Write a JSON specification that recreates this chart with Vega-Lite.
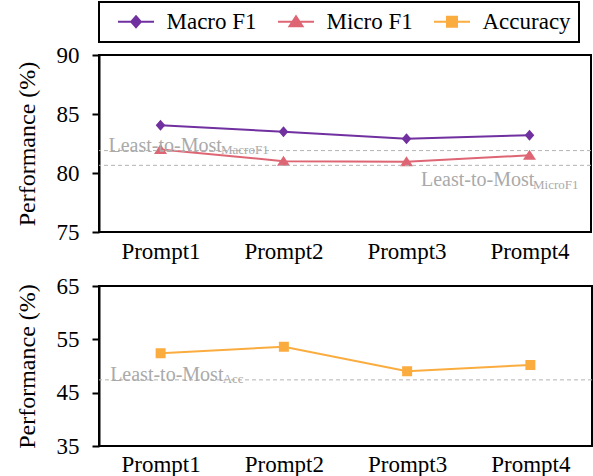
{
  "$schema": "https://vega.github.io/schema/vega-lite/v6.json",
  "background": "white",
  "padding": {"left": 14, "top": 0, "right": 0, "bottom": 0},
  "spacing": 10,
  "datasets": {
    "scores": [
      {"prompt": "Prompt1", "metric": "Macro F1", "value": 84.05},
      {"prompt": "Prompt2", "metric": "Macro F1", "value": 83.5},
      {"prompt": "Prompt3", "metric": "Macro F1", "value": 82.9},
      {"prompt": "Prompt4", "metric": "Macro F1", "value": 83.2},
      {"prompt": "Prompt1", "metric": "Micro F1", "value": 82.0},
      {"prompt": "Prompt2", "metric": "Micro F1", "value": 81.0},
      {"prompt": "Prompt3", "metric": "Micro F1", "value": 80.95},
      {"prompt": "Prompt4", "metric": "Micro F1", "value": 81.5},
      {"prompt": "Prompt1", "metric": "Accuracy", "value": 52.4},
      {"prompt": "Prompt2", "metric": "Accuracy", "value": 53.6},
      {"prompt": "Prompt3", "metric": "Accuracy", "value": 49.0},
      {"prompt": "Prompt4", "metric": "Accuracy", "value": 50.2}
    ],
    "refs": [
      {"metric": "Macro F1", "sub": "MacroF1", "value": 81.9},
      {"metric": "Micro F1", "sub": "MicroF1", "value": 80.65},
      {"metric": "Accuracy", "sub": "Acc", "value": 47.4}
    ]
  },
  "config": {
    "font": "Liberation Serif",
    "style": {
      "guide-label": {"font": "Liberation Serif"},
      "guide-title": {"font": "Liberation Serif"}
    },
    "view": {"stroke": "black", "strokeWidth": 2},
    "axis": {
      "grid": false,
      "labelFont": "Liberation Serif",
      "titleFont": "Liberation Serif",
      "labelColor": "black",
      "titleColor": "black",
      "labelFontSize": 23,
      "titleFontSize": 24,
      "titleFontWeight": "normal",
      "domainColor": "black",
      "tickColor": "black",
      "domainWidth": 2,
      "tickWidth": 2
    },
    "axisX": {"domain": false, "ticks": false, "labelPadding": 8, "labelAngle": 0},
    "axisY": {"tickSize": 7, "labelPadding": 13, "titlePadding": 17, "titleFont": "Liberation Serif"},
    "legend": {
      "orient": "top",
      "direction": "horizontal",
      "labelFont": "Liberation Serif",
      "labelFontSize": 23,
      "labelColor": "black",
      "symbolSize": 400,
      "symbolStrokeWidth": 2,
      "symbolOpacity": 1,
      "symbolOffset": 17.5,
      "labelOffset": 19,
      "columnPadding": 10,
      "padding": 8,
      "strokeColor": "black",
      "offset": 13
    }
  },
  "resolve": {
    "scale": {"color": "shared", "shape": "shared", "x": "independent", "y": "independent"},
    "legend": {"color": "independent", "shape": "independent"}
  },
  "vconcat": [
    {
      "width": 492,
      "height": 177,
      "layer": [
        {
          "data": {"name": "scores"},
          "transform": [{"filter": "datum.metric !== 'Accuracy'"}],
          "encoding": {
            "x": {"field": "prompt", "type": "nominal", "scale": {"type": "point", "padding": 0.5}, "title": null},
            "y": {"field": "value", "type": "quantitative", "scale": {"domain": [75, 90], "nice": false, "zero": false}, "axis": {"values": [75, 80, 85, 90], "title": "Performance (%)", "titleFont": "Liberation Serif"}},
            "color": {
              "field": "metric", "type": "nominal",
              "scale": {"domain": ["Macro F1", "Micro F1", "Accuracy"], "range": ["#7030A0", "#DE6674", "#FBAC3F"]},
              "legend": {
                "title": null,
                "labelFont": "Liberation Serif",
                "encode": {
                  "symbols": {"update": {"stroke": {"scale": "color", "field": "value"}, "strokeWidth": {"value": 2}, "fill": {"scale": "color", "field": "value"}}},
                  "legend": {"update": {"strokeWidth": {"value": 2}}}
                }
              }
            },
            "shape": {
              "field": "metric", "type": "nominal",
              "scale": {"domain": ["Macro F1", "Micro F1", "Accuracy"], "range": [
                "M-1.8,0L1.8,0M0,-0.55L0.48,0L0,0.55L-0.48,0Z",
                "M-1.8,0L1.8,0M0,-0.55L0.65,0.45L-0.65,0.45Z",
                "M-1.8,0L1.8,0M-0.5,-0.5L0.5,-0.5L0.5,0.5L-0.5,0.5Z"
              ]},
              "legend": {"title": null, "labelFont": "Liberation Serif"}
            }
          },
          "layer": [
            {"mark": {"type": "line", "strokeWidth": 2}},
            {"mark": {"type": "point", "filled": true, "opacity": 1, "size": 400}}
          ]
        },
        {
          "data": {"name": "refs"},
          "transform": [{"filter": "datum.metric !== 'Accuracy'"}],
          "mark": {"type": "rule", "color": "#b4b4b4", "strokeWidth": 1, "strokeDash": [4, 3]},
          "encoding": {"y": {"field": "value", "type": "quantitative"}}
        },
        {
          "data": {"name": "refs"},
          "transform": [{"filter": "datum.metric === 'Macro F1'"}],
          "mark": {"type": "text", "text": "Least-to-Most", "font": "Liberation Serif", "fontSize": 20, "color": "#aaaaaa", "align": "left", "baseline": "alphabetic", "dx": -52, "dy": 1},
          "encoding": {"x": {"datum": "Prompt1"}, "y": {"field": "value", "type": "quantitative"}}
        },
        {
          "data": {"name": "refs"},
          "transform": [{"filter": "datum.metric === 'Macro F1'"}],
          "mark": {"type": "text", "font": "Liberation Serif", "fontSize": 13, "color": "#aaaaaa", "align": "left", "baseline": "alphabetic", "dx": 60.5, "dy": 3},
          "encoding": {"x": {"datum": "Prompt1"}, "y": {"field": "value", "type": "quantitative"}, "text": {"field": "sub"}}
        },
        {
          "data": {"name": "refs"},
          "transform": [{"filter": "datum.metric === 'Micro F1'"}],
          "mark": {"type": "text", "text": "Least-to-Most", "font": "Liberation Serif", "fontSize": 20, "color": "#aaaaaa", "align": "left", "baseline": "alphabetic", "dx": -108.5, "dy": 21},
          "encoding": {"x": {"datum": "Prompt4"}, "y": {"field": "value", "type": "quantitative"}}
        },
        {
          "data": {"name": "refs"},
          "transform": [{"filter": "datum.metric === 'Micro F1'"}],
          "mark": {"type": "text", "font": "Liberation Serif", "fontSize": 13, "color": "#aaaaaa", "align": "left", "baseline": "alphabetic", "dx": 3.5, "dy": 24},
          "encoding": {"x": {"datum": "Prompt4"}, "y": {"field": "value", "type": "quantitative"}, "text": {"field": "sub"}}
        }
      ]
    },
    {
      "width": 493,
      "height": 160,
      "layer": [
        {
          "data": {"name": "scores"},
          "transform": [{"filter": "datum.metric === 'Accuracy'"}],
          "encoding": {
            "x": {"field": "prompt", "type": "nominal", "scale": {"type": "point", "padding": 0.5}, "title": null, "axis": {"labelPadding": 7}},
            "y": {"field": "value", "type": "quantitative", "scale": {"domain": [35, 65], "nice": false, "zero": false}, "axis": {"values": [35, 45, 55, 65], "title": "Performance (%)", "titleFont": "Liberation Serif"}},
            "color": {"field": "metric", "type": "nominal", "legend": null},
            "shape": {"field": "metric", "type": "nominal", "legend": null}
          },
          "layer": [
            {"mark": {"type": "line", "strokeWidth": 2}},
            {"mark": {"type": "point", "filled": true, "opacity": 1, "size": 400}}
          ]
        },
        {
          "data": {"name": "refs"},
          "transform": [{"filter": "datum.metric === 'Accuracy'"}],
          "mark": {"type": "rule", "color": "#b4b4b4", "strokeWidth": 1, "strokeDash": [4, 3]},
          "encoding": {"y": {"field": "value", "type": "quantitative"}}
        },
        {
          "data": {"name": "refs"},
          "transform": [{"filter": "datum.metric === 'Accuracy'"}],
          "mark": {"type": "text", "text": "Least-to-Most", "font": "Liberation Serif", "fontSize": 20, "color": "#aaaaaa", "align": "left", "baseline": "alphabetic", "dx": -50.5, "dy": 1},
          "encoding": {"x": {"datum": "Prompt1"}, "y": {"field": "value", "type": "quantitative"}}
        },
        {
          "data": {"name": "refs"},
          "transform": [{"filter": "datum.metric === 'Accuracy'"}],
          "mark": {"type": "text", "font": "Liberation Serif", "fontSize": 13, "color": "#aaaaaa", "align": "left", "baseline": "alphabetic", "dx": 62, "dy": 3},
          "encoding": {"x": {"datum": "Prompt1"}, "y": {"field": "value", "type": "quantitative"}, "text": {"field": "sub"}}
        }
      ]
    }
  ]
}
